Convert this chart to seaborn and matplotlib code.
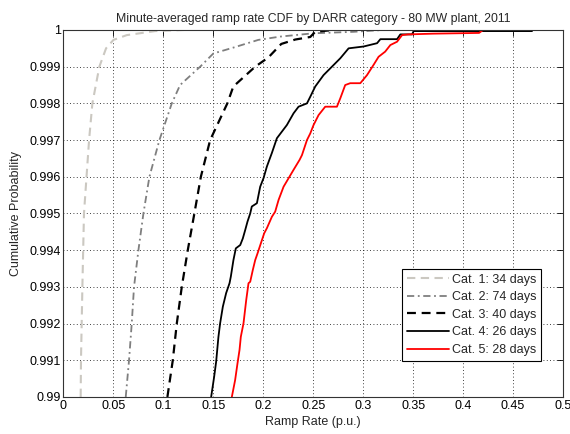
import numpy as np
import pandas as pd
import matplotlib
matplotlib.use("Agg")
import matplotlib.pyplot as plt
import seaborn as sns

# Empirical CDF traces of minute-averaged ramp rate, one per DARR category
cat1_x = [0.0172, 0.0175, 0.0189, 0.0205, 0.0256, 0.0289, 0.0359, 0.0426, 0.0500, 0.0633, 0.0917, 0.1200]
cat1_p = [0.99000, 0.99100, 0.99300, 0.99500, 0.99700, 0.99800, 0.99900, 0.99950, 0.99973, 0.99986, 0.99997, 1.00000]

cat2_x = [0.0623, 0.0656, 0.0683, 0.0706, 0.0750, 0.0800, 0.0860, 0.0960, 0.1084, 0.1167, 0.1368,
          0.1500, 0.1700, 0.1950, 0.2170, 0.2500, 0.2900, 0.3200]
cat2_p = [0.99000, 0.99100, 0.99200, 0.99300, 0.99400, 0.99500, 0.99600, 0.99700, 0.99800, 0.99850, 0.99900,
          0.99936, 0.99952, 0.99973, 0.99982, 0.99991, 0.99995, 1.00000]

cat3_x = [0.1040, 0.1094, 0.1134, 0.1184, 0.1244, 0.1310, 0.1375, 0.1468, 0.1640, 0.1700, 0.1919,
          0.2050, 0.2180, 0.2320, 0.2470, 0.2520, 0.2700]
cat3_p = [0.99000, 0.99100, 0.99200, 0.99300, 0.99400, 0.99500, 0.99600, 0.99700, 0.99800, 0.99846, 0.99900,
          0.99925, 0.99962, 0.99974, 0.99981, 0.99995, 1.00000]

cat4_x = [0.1478, 0.1508, 0.1528, 0.1551, 0.1568, 0.1595, 0.1628, 0.1662, 0.1675, 0.1701, 0.1725, 0.1769,
          0.1795, 0.1819, 0.1842, 0.1869, 0.1885, 0.1936, 0.1969, 0.2002, 0.2036, 0.2086, 0.2136, 0.2236,
          0.2303, 0.2353, 0.2437, 0.2470, 0.2520, 0.2603, 0.2687, 0.2771, 0.2854, 0.3004, 0.3139, 0.3172,
          0.3339, 0.3372, 0.3489, 0.3505, 0.4690]
cat4_p = [0.99000, 0.99055, 0.99096, 0.99164, 0.99201, 0.99246, 0.99283, 0.99310, 0.99328, 0.99373, 0.99405, 0.99414,
          0.99432, 0.99455, 0.99478, 0.99500, 0.99519, 0.99528, 0.99573, 0.99596, 0.99628, 0.99665, 0.99705, 0.99741,
          0.99773, 0.99791, 0.99800, 0.99818, 0.99846, 0.99877, 0.99900, 0.99923, 0.99950, 0.99955, 0.99964, 0.99975,
          0.99975, 0.99988, 0.99988, 0.99997, 0.99997]

cat5_x = [0.1685, 0.1718, 0.1742, 0.1762, 0.1775, 0.1802, 0.1829, 0.1852, 0.1869, 0.1895, 0.1919, 0.1942,
          0.1976, 0.2009, 0.2036, 0.2086, 0.2119, 0.2153, 0.2203, 0.2253, 0.2303, 0.2363, 0.2387, 0.2437,
          0.2470, 0.2503, 0.2553, 0.2620, 0.2737, 0.2771, 0.2820, 0.2870, 0.2971, 0.3038, 0.3104, 0.3154,
          0.3220, 0.3272, 0.3339, 0.3389, 0.3450, 0.3700, 0.4160, 0.4200]
cat5_p = [0.99000, 0.99046, 0.99092, 0.99128, 0.99164, 0.99201, 0.99264, 0.99310, 0.99314, 0.99346, 0.99373, 0.99391,
          0.99419, 0.99446, 0.99460, 0.99491, 0.99505, 0.99537, 0.99573, 0.99596, 0.99619, 0.99646, 0.99659, 0.99700,
          0.99718, 0.99741, 0.99768, 0.99791, 0.99791, 0.99814, 0.99850, 0.99855, 0.99855, 0.99877, 0.99905, 0.99927,
          0.99941, 0.99959, 0.99968, 0.99986, 0.99988, 0.99990, 0.99992, 1.00000]

series_labels = ["Cat. 1: 34 days", "Cat. 2: 74 days", "Cat. 3: 40 days", "Cat. 4: 26 days", "Cat. 5: 28 days"]

x_ticks = [0, 0.05, 0.1, 0.15, 0.2, 0.25, 0.3, 0.35, 0.4, 0.45, 0.5]
x_tick_labels = ["0", "0.05", "0.1", "0.15", "0.2", "0.25", "0.3", "0.35", "0.4", "0.45", "0.5"]
y_ticks = [0.99, 0.991, 0.992, 0.993, 0.994, 0.995, 0.996, 0.997, 0.998, 0.999, 1.0]
y_tick_labels = ["0.99", "0.991", "0.992", "0.993", "0.994", "0.995", "0.996", "0.997", "0.998", "0.999", "1"]

sns.set_theme(style="white")
plt.rcParams["font.family"] = ["Liberation Sans", "DejaVu Sans"]
plt.rcParams["font.size"] = 9

fig = plt.figure(figsize=(5.70, 4.34), dpi=100)
fig.patch.set_facecolor("white")
ax = fig.add_axes([0.1114, 0.0853, 0.8763, 0.8456])

styles = [
    dict(color="#cbc8c1", linestyle=(0, (4.0, 2.6)), linewidth=1.5),
    dict(color="#7f7f7f", linestyle=(0, (4.0, 2.0, 1.0, 2.0)), linewidth=1.3),
    dict(color="black", linestyle=(0, (4.0, 2.6)), linewidth=1.6),
    dict(color="black", linestyle="-", linewidth=1.3),
    dict(color="red", linestyle="-", linewidth=1.3),
]
traces = [(cat1_x, cat1_p), (cat2_x, cat2_p), (cat3_x, cat3_p), (cat4_x, cat4_p), (cat5_x, cat5_p)]

for (xs, ps), lab, st in zip(traces, series_labels, styles):
    df = pd.DataFrame({"ramp": xs, "prob": ps})
    sns.lineplot(data=df, x="ramp", y="prob", sort=False, estimator=None,
                 label=lab, ax=ax, **st)

ax.set_xlim(0, 0.5)
ax.set_ylim(0.99, 1.0)
ax.set_xticks(x_ticks)
ax.set_xticklabels(x_tick_labels)
ax.set_yticks(y_ticks)
ax.set_yticklabels(y_tick_labels)

ax.grid(True, color="black", linestyle=(0, (1, 3)), linewidth=0.6)
ax.tick_params(direction="in", length=4, width=0.6, top=True, right=True,
               labelsize=9, colors="black", pad=2)
for sp in ax.spines.values():
    sp.set_visible(True)
    sp.set_color("#333333")
    sp.set_linewidth(0.8)

ax.set_xlabel("Ramp Rate (p.u.)", fontsize=9, labelpad=3)
ax.set_ylabel("Cumulative Probability", fontsize=9, labelpad=5)
ax.set_title("Minute-averaged ramp rate CDF by DARR category - 80 MW plant, 2011", fontsize=8.8, pad=6)

leg = ax.legend(loc="lower right", bbox_to_anchor=(0.956, 0.098), fontsize=9,
                frameon=True, fancybox=False, framealpha=1, edgecolor="black",
                handlelength=3.4, handletextpad=0.2, borderpad=0.4, labelspacing=0.45,
                borderaxespad=0)
leg.get_frame().set_linewidth(0.8)

fig.savefig("out.png", dpi=100, facecolor="white")
